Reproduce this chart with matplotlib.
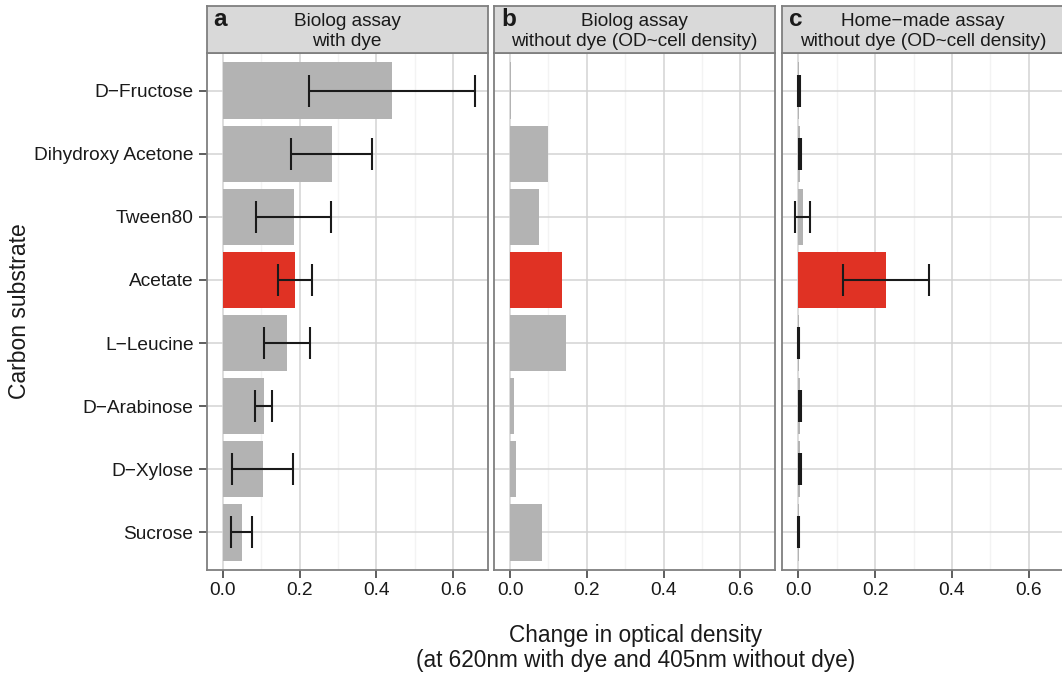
import numpy as np
import matplotlib.pyplot as plt
from matplotlib.ticker import MultipleLocator

plt.rcParams['font.family'] = ['Liberation Sans', 'DejaVu Sans']

# carbon substrates, top to bottom
substrates = ['D\u2212Fructose', 'Dihydroxy Acetone', 'Tween80', 'Acetate',
              'L\u2212Leucine', 'D\u2212Arabinose', 'D\u2212Xylose', 'Sucrose']

panel_letters = ['a', 'b', 'c']
panel_line1 = ['Biolog assay', 'Biolog assay', 'Home\u2212made assay']
panel_line2 = ['with dye', 'without dye (OD~cell density)', 'without dye (OD~cell density)']

# a: Biolog with dye
bar_a = [0.440, 0.285, 0.186, 0.189, 0.168, 0.108, 0.105, 0.050]
lo_a = [0.225, 0.178, 0.087, 0.143, 0.107, 0.084, 0.023, 0.022]
hi_a = [0.658, 0.389, 0.283, 0.233, 0.227, 0.129, 0.183, 0.075]

# b: Biolog without dye (no error bars)
bar_b = [0.003, 0.100, 0.076, 0.136, 0.147, 0.011, 0.016, 0.082]

# c: home-made assay without dye
bar_c = [0.002, 0.004, 0.012, 0.229, 0.002, 0.005, 0.005, 0.002]
lo_c = [0.000, 0.001, -0.008, 0.117, 0.000, 0.002, 0.002, 0.000]
hi_c = [0.004, 0.006, 0.030, 0.340, 0.003, 0.007, 0.006, 0.003]

highlight = 'Acetate'

GREY_BAR = '#B3B3B3'
RED = '#E03224'
BORDER = '#7F7F7F'
INK = '#1A1A1A'

W, H = 1062, 677
fig = plt.figure(figsize=(W / 100, H / 100), dpi=100)


def fx(px):
    return px / W


def fy(py):
    return 1 - py / H


panel_left = [206.7, 494.0, 782.3]
panel_w = 281.0
top, bottom = 53.0, 570.0
strip_top = 6.0

bars = [bar_a, bar_b, bar_c]
errs = [(lo_a, hi_a), None, (lo_c, hi_c)]
ypos = np.arange(len(substrates))
colors = [RED if s == highlight else GREY_BAR for s in substrates]

for i in range(3):
    ax = fig.add_axes([fx(panel_left[i]), fy(bottom), panel_w / W, (bottom - top) / H])
    ax.set_xlim(-0.0417, 0.69)
    ax.set_ylim(len(substrates) - 0.4, -0.6)
    ax.xaxis.set_major_locator(MultipleLocator(0.2))
    ax.xaxis.set_minor_locator(MultipleLocator(0.1))
    ax.set_axisbelow(True)
    ax.grid(which='major', axis='both', color='#D3D3D3', linewidth=1.1)
    ax.grid(which='minor', axis='x', color='#F3F3F3', linewidth=1.0)
    ax.tick_params(which='minor', length=0)

    ax.barh(ypos, bars[i], height=0.9, color=colors, zorder=2)

    if errs[i] is not None:
        lo, hi = errs[i]
        ax.hlines(ypos, lo, hi, color=INK, linewidth=1.5, zorder=3)
        ax.vlines(lo, ypos - 0.25, ypos + 0.25, color=INK, linewidth=1.5, zorder=3)
        ax.vlines(hi, ypos - 0.25, ypos + 0.25, color=INK, linewidth=1.5, zorder=3)

    ax.set_xticks([0.0, 0.2, 0.4, 0.6])
    ax.set_xticklabels(['0.0', '0.2', '0.4', '0.6'])
    ax.set_yticks(ypos)
    if i == 0:
        ax.set_yticklabels(substrates)
        ax.tick_params(axis='y', length=5.5, width=1.1, color='#333333',
                       labelsize=13.8, labelcolor=INK, pad=4)
    else:
        ax.set_yticklabels([])
        ax.tick_params(axis='y', length=0)
    ax.tick_params(axis='x', length=5.5, width=1.1, color='#333333',
                   labelsize=13.8, labelcolor=INK, pad=3)

    for sp in ax.spines.values():
        sp.set_color(BORDER)
        sp.set_linewidth(1.3)

    # facet strip
    st = fig.add_axes([fx(panel_left[i]), fy(top), panel_w / W, (top - strip_top) / H])
    st.set_facecolor('#D9D9D9')
    st.set_xticks([])
    st.set_yticks([])
    for sp in st.spines.values():
        sp.set_color(BORDER)
        sp.set_linewidth(1.3)
    cx = fx(panel_left[i] + panel_w / 2)
    fig.text(cx, fy(21), panel_line1[i], ha='center', va='center', fontsize=13.7, color=INK)
    fig.text(cx, fy(41), panel_line2[i], ha='center', va='center', fontsize=13.7, color=INK)
    fig.text(fx(panel_left[i] + 7), fy(26), panel_letters[i], ha='left', va='baseline',
             fontsize=17.5, fontweight='bold', color=INK)

fig.text(fx(20), fy(311), 'Carbon substrate', rotation=90, ha='center', va='center',
         fontsize=16.5, color=INK)
fig.text(fx(636), fy(648), 'Change in optical density\n(at 620nm with dye and 405nm without dye)',
         ha='center', va='center', fontsize=16.3, color=INK, linespacing=1.1)

fig.savefig('out.png', dpi=100)
